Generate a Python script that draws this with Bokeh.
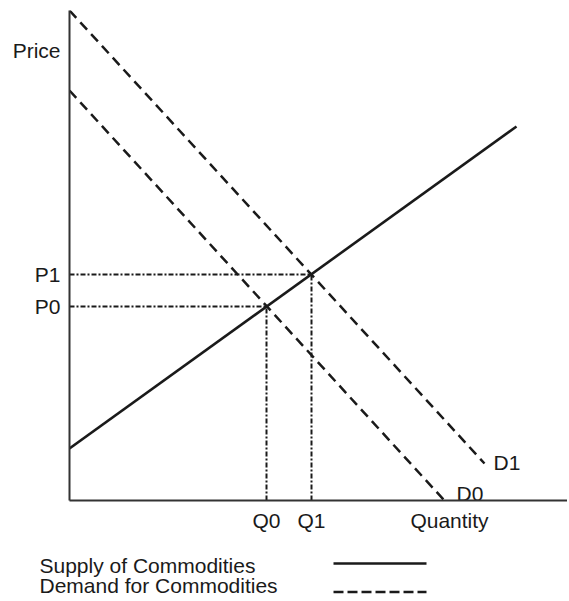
from bokeh.plotting import figure
from bokeh.models import Range1d, FixedTicker
from bokeh.layouts import column
from bokeh.embed import file_html
from bokeh.resources import INLINE
from bokeh.core.properties import value

# ---- data (abstract units) ----
supply_q = [0, 447]
supply_p = [52, 374]
d0_q = [0, 374]
d0_p = [410, 1]
d1_q = [0, 415]
d1_p = [490, 37]
eq_q = [197, 242]          # Q0, Q1
eq_p = [194, 226]          # P0, P1
q_labels = ["Q0", "Q1"]
p_labels = ["P0", "P1"]
price_label_y = 450
quantity_label_x = 380
curve_labels = ["D0", "D1"]
curve_label_q = [387, 424]
curve_label_p = [7.5, 38.5]
legend_labels = ["Supply of Commodities", "Demand for Commodities"]

FONT = "Liberation Sans"
INK = "#1a1a1a"

p = figure(width=567, height=536, output_backend="svg", toolbar_location=None,
           x_range=Range1d(0, 498), y_range=Range1d(0, 490),
           min_border_left=69, min_border_right=0, min_border_top=10, min_border_bottom=36)
p.frame_align = False
p.outline_line_color = None
p.grid.visible = False
p.background_fill_color = "white"
p.border_fill_color = "white"

for ax in (p.xaxis[0], p.yaxis[0]):
    ax.axis_line_width = 2
    ax.axis_line_color = "#333333"
    ax.major_tick_line_color = None
    ax.minor_tick_line_color = None
    ax.major_tick_in = 0
    ax.major_tick_out = 0
    ax.minor_tick_in = 0
    ax.minor_tick_out = 0
    ax.major_label_text_font = FONT
    ax.major_label_text_font_size = "21px"
    ax.major_label_text_color = INK

p.xaxis[0].ticker = FixedTicker(ticks=eq_q + [quantity_label_x])
p.xaxis[0].major_label_overrides = {eq_q[0]: q_labels[0], eq_q[1]: q_labels[1],
                                    quantity_label_x: "Quantity"}
p.xaxis[0].major_label_standoff = 8
p.yaxis[0].ticker = FixedTicker(ticks=eq_p + [price_label_y])
p.yaxis[0].major_label_overrides = {eq_p[0]: p_labels[0], eq_p[1]: p_labels[1],
                                    price_label_y: "Price"}
p.yaxis[0].major_label_standoff = 9

# guide lines (dash-dot)
for q, pr in zip(eq_q, eq_p):
    p.line([0, q], [pr, pr], line_color=INK, line_width=2, line_dash="5 2 2 2")
    p.line([q, q], [0, pr], line_color=INK, line_width=2, line_dash="5 2 2 2")

# demand curves
p.line(d0_q, d0_p, line_color=INK, line_width=2.5, line_dash="10 6")
p.line(d1_q, d1_p, line_color=INK, line_width=2.5, line_dash="10 6")
# supply
p.line(supply_q, supply_p, line_color=INK, line_width=2.6)

p.text(x=curve_label_q, y=curve_label_p, text=curve_labels, text_font=value(FONT),
       text_font_size="21px", text_color=INK, text_baseline="middle", text_align="left")

# ---- legend figure ----
lg = figure(width=567, height=64, output_backend="svg", toolbar_location=None,
            x_range=Range1d(0, 567), y_range=Range1d(64, 0),
            x_axis_type=None, y_axis_type=None,
            min_border=0, min_border_left=0, min_border_right=0,
            min_border_top=0, min_border_bottom=0)
lg.frame_align = False
lg.outline_line_color = None
lg.grid.visible = False
lg.text(x=[39, 39], y=[28.5, 48.5], text=legend_labels, text_font=value(FONT),
        text_font_size="21px", text_color=INK, text_baseline="middle", text_align="left")
lg.line([333, 426], [27, 27], line_color=INK, line_width=2.6)
lg.line([333, 426], [55.5, 55.5], line_color=INK, line_width=2.4, line_dash="10 4")

layout = column(p, lg, spacing=0)
open("out.html", "w").write(file_html(layout, INLINE))
